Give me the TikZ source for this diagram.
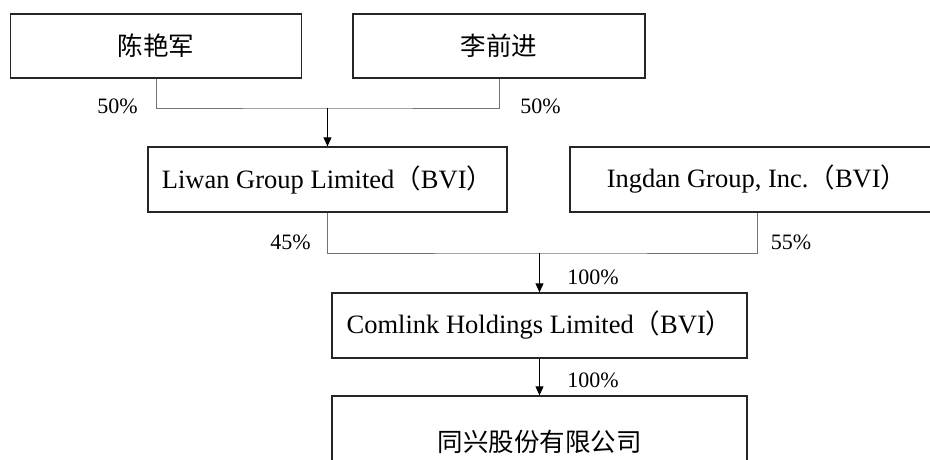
\documentclass[tikz,border=0pt]{standalone}
\usepackage{fontspec}
\setmainfont{Liberation Serif}
\newfontfamily\cjk{Noto Sans CJK SC}
\usetikzlibrary{arrows.meta}
\begin{document}
\begin{tikzpicture}[x=1pt,y=-1pt,
  box/.style={draw=black!85,line width=1.3pt,inner sep=0pt,font=\fontsize{26.5}{30}\selectfont},
  cbox/.style={box,font=\cjk\fontsize{25.5}{30}\selectfont},
  link/.style={draw=black!55,line width=1pt},
  arr/.style={draw=black,line width=0.9pt,-{Triangle[length=9pt,width=8pt]}},
  pct/.style={font=\fontsize{22}{26}\selectfont,inner sep=0pt}]
\useasboundingbox (0,0) rectangle (930,459);
\clip (0,0) rectangle (930,459);
\node[cbox,minimum width=291pt,minimum height=64pt] (chen) at (156,46) {陈艳军};
\node[cbox,minimum width=292pt,minimum height=64pt] (li) at (499,46) {李前进};
\node[box,minimum width=359pt,minimum height=65pt] (liwan) at (327.5,179.5) {Liwan Group Limited{\cjk （}BVI{\cjk ）}};
\node[box,minimum width=374pt,minimum height=65pt] (ingdan) at (757,179.5) {Ingdan Group, Inc.{\cjk （}BVI{\cjk ）}};
\node[box,minimum width=415pt,minimum height=65pt] (comlink) at (539.5,325.5) {Comlink Holdings Limited{\cjk （}BVI{\cjk ）}};
\node[cbox,minimum width=415pt,minimum height=92pt] (tx) at (539.5,442) {同兴股份有限公司};
\coordinate (j1) at (liwan.north |- 0,108);
\coordinate (j2) at (comlink.north |- 0,253);
\draw[link] (chen.south) |- (j1) -| (li.south);
\draw[arr] (j1) -- (liwan.north);
\draw[link] (liwan.south) |- (j2) -| (ingdan.south);
\draw[arr] (j2) -- (comlink.north);
\draw[arr] (comlink.south) -- (tx.north);
\node[pct] (p1) at (117.5,106) {50\%};
\node[pct] (p2) at (540.5,106) {50\%};
\node[pct] (p3) at (290.5,242) {45\%};
\node[pct] (p4) at (791,242) {55\%};
\node[pct] (p5) at (593,277) {100\%};
\node[pct] (p6) at (593,380) {100\%};
\end{tikzpicture}
\end{document}
